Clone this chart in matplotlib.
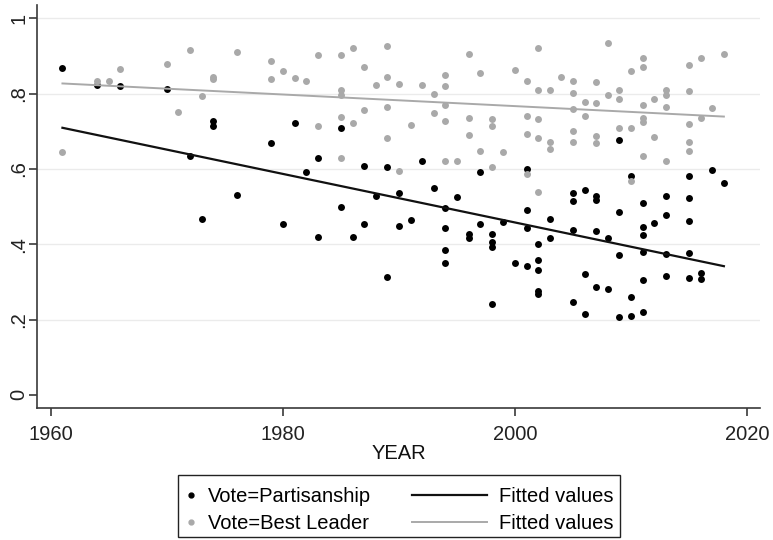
import numpy as np
import matplotlib
matplotlib.use("Agg")
import matplotlib.pyplot as plt
from matplotlib.lines import Line2D
from matplotlib.patches import Rectangle

plt.rcParams['font.family'] = ['Liberation Sans', 'DejaVu Sans']

# Vote=Partisanship (black dots)
part_year = [1961, 1964, 1966, 1970, 1972, 1973, 1974, 1974, 1976,
             1979, 1980, 1981, 1982, 1983, 1983, 1985, 1985, 1986, 1987, 1987,
             1988, 1989, 1989, 1990, 1990, 1991, 1992, 1993, 1994, 1994, 1994, 1994,
             1995, 1996, 1996, 1997, 1997, 1998, 1998, 1998, 1998, 1999,
             2000, 2001, 2001, 2001, 2001, 2002, 2002, 2002, 2002, 2002,
             2003, 2003, 2005, 2005, 2005, 2005, 2006, 2006, 2006,
             2007, 2007, 2007, 2007, 2008, 2008, 2009, 2009, 2009, 2009,
             2010, 2010, 2010, 2011, 2011, 2011, 2011, 2011, 2011, 2012,
             2013, 2013, 2013, 2013, 2015, 2015, 2015, 2015, 2015,
             2016, 2016, 2017, 2018]
part_vote = [0.869, 0.822, 0.821, 0.812, 0.634, 0.467, 0.727, 0.714, 0.531,
             0.669, 0.454, 0.723, 0.591, 0.630, 0.418, 0.709, 0.500, 0.419, 0.609, 0.454,
             0.529, 0.604, 0.313, 0.537, 0.449, 0.464, 0.622, 0.550, 0.497, 0.443, 0.384, 0.350,
             0.526, 0.427, 0.417, 0.591, 0.455, 0.427, 0.405, 0.394, 0.242, 0.460,
             0.349, 0.599, 0.490, 0.444, 0.341, 0.402, 0.358, 0.332, 0.275, 0.269,
             0.467, 0.417, 0.536, 0.515, 0.437, 0.247, 0.543, 0.321, 0.215,
             0.527, 0.517, 0.435, 0.286, 0.416, 0.282, 0.677, 0.485, 0.372, 0.206,
             0.582, 0.260, 0.209, 0.510, 0.446, 0.424, 0.380, 0.306, 0.220, 0.457,
             0.528, 0.479, 0.373, 0.315, 0.582, 0.523, 0.463, 0.378, 0.311,
             0.325, 0.308, 0.598, 0.564]

# Vote=Best Leader (grey dots)
lead_year = [1961, 1964, 1965, 1966, 1970, 1971, 1972, 1973, 1974, 1974, 1976,
             1979, 1979, 1980, 1981, 1982, 1983, 1983, 1985, 1985, 1985, 1985, 1985,
             1986, 1986, 1987, 1987, 1988, 1989, 1989, 1989, 1989, 1990, 1990,
             1991, 1992, 1993, 1993, 1994, 1994, 1994, 1994, 1994, 1995,
             1996, 1996, 1996, 1997, 1997, 1998, 1998, 1998, 1999,
             2000, 2001, 2001, 2001, 2001, 2002, 2002, 2002, 2002, 2002,
             2003, 2003, 2003, 2004, 2005, 2005, 2005, 2005, 2005, 2006, 2006,
             2007, 2007, 2007, 2007, 2008, 2008, 2009, 2009, 2009,
             2010, 2010, 2010, 2011, 2011, 2011, 2011, 2011, 2011, 2012, 2012,
             2013, 2013, 2013, 2013, 2015, 2015, 2015, 2015, 2015,
             2016, 2016, 2017, 2018]
lead_vote = [0.645, 0.835, 0.834, 0.866, 0.879, 0.752, 0.916, 0.793, 0.845, 0.840, 0.911,
             0.887, 0.840, 0.860, 0.843, 0.834, 0.903, 0.715, 0.902, 0.809, 0.796, 0.739, 0.630,
             0.922, 0.721, 0.871, 0.756, 0.822, 0.928, 0.845, 0.765, 0.681, 0.826, 0.594,
             0.718, 0.823, 0.800, 0.750, 0.851, 0.821, 0.770, 0.727, 0.622, 0.622,
             0.905, 0.736, 0.689, 0.855, 0.647, 0.733, 0.713, 0.606, 0.645,
             0.864, 0.835, 0.740, 0.692, 0.587, 0.922, 0.810, 0.734, 0.681, 0.539,
             0.810, 0.672, 0.654, 0.844, 0.834, 0.801, 0.760, 0.702, 0.672, 0.779, 0.740,
             0.830, 0.776, 0.688, 0.670, 0.934, 0.796, 0.810, 0.785, 0.710,
             0.861, 0.708, 0.567, 0.895, 0.871, 0.771, 0.735, 0.724, 0.634, 0.786, 0.684,
             0.810, 0.796, 0.764, 0.621, 0.875, 0.807, 0.719, 0.672, 0.649,
             0.896, 0.735, 0.762, 0.905]

y_ticks = [0, 0.2, 0.4, 0.6, 0.8, 1.0]
y_tick_labels = ['0', '.2', '.4', '.6', '.8', '1']
x_ticks = [1960, 1980, 2000, 2020]

BLACK = '#000000'
GREY = '#a9a9a9'
AXIS = '#3a3a3a'
FS = 14.5


def fitted(x, y):
    x = np.asarray(x, dtype=float)
    b, a = np.polyfit(x, np.asarray(y, dtype=float), 1)
    xs = np.array([x.min(), x.max()])
    return xs, a + b * xs


fig = plt.figure(figsize=(7.73, 5.40), dpi=100)
ax = fig.add_axes([0.0485, 0.2444, 0.9345, 0.7466])

ax.scatter(part_year, part_vote, s=25, color=BLACK, linewidths=0, zorder=3)
ax.scatter(lead_year, lead_vote, s=25, color=GREY, linewidths=0, zorder=3)
fx, fy = fitted(part_year, part_vote)
ax.plot(fx, fy, color='#111111', lw=1.6, zorder=4)
gx, gy = fitted(lead_year, lead_vote)
ax.plot(gx, gy, color=GREY, lw=1.4, zorder=4)

ax.set_xlim(1958.85, 2021.1)
ax.set_ylim(-0.035, 1.036)
ax.set_xticks(x_ticks)
ax.set_yticks(y_ticks)
ax.set_yticklabels(y_tick_labels, rotation=90, va='center')
ax.tick_params(axis='both', labelsize=FS, color=AXIS, length=5.5, width=1.2,
               labelcolor='#222222')
ax.tick_params(axis='x', pad=7)
ax.tick_params(axis='y', pad=1)

ax.set_xlabel('YEAR', fontsize=FS, color='#111111', labelpad=0)

ax.grid(axis='y', color='#ebebeb', lw=1.0, zorder=0)
ax.yaxis.get_gridlines()[0].set_visible(False)
for side in ['top', 'right']:
    ax.spines[side].set_visible(False)
for side in ['left', 'bottom']:
    ax.spines[side].set_color(AXIS)
    ax.spines[side].set_linewidth(1.2)

# legend: markers on the left, fitted lines on the right, shared frame
dot_handles = [Line2D([], [], ls='', marker='o', ms=3.5, color=BLACK),
               Line2D([], [], ls='', marker='o', ms=3.5, color=GREY)]
line_handles = [Line2D([], [], color='#111111', lw=1.6),
                Line2D([], [], color=GREY, lw=1.4)]

fig.legend(dot_handles, ['Vote=Partisanship', 'Vote=Best Leader'],
           loc='upper left', bbox_to_anchor=(0.221, 0.125), frameon=False,
           fontsize=FS, handlelength=0.6, handletextpad=0.55, labelspacing=0.42,
           borderpad=0.2)
fig.legend(line_handles, ['Fitted values', 'Fitted values'],
           loc='upper left', bbox_to_anchor=(0.515, 0.125), frameon=False,
           fontsize=FS, handlelength=3.7, handletextpad=0.6, labelspacing=0.42,
           borderpad=0.2)
fig.add_artist(Rectangle((0.2303, 0.006), 0.572, 0.1145, transform=fig.transFigure,
                         fill=False, edgecolor='#222222', lw=1.0))

fig.savefig('out.png', dpi=100)
